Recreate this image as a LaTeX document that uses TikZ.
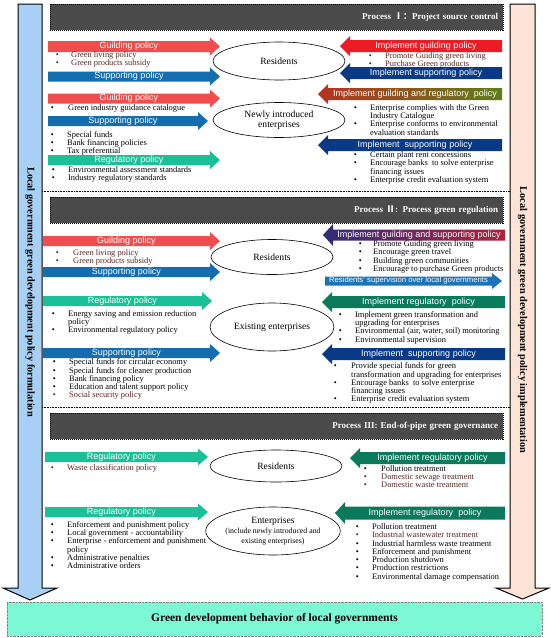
\documentclass[tikz,border=0pt]{standalone}
\usepackage{fontspec}
\setmainfont{Liberation Serif}
\setsansfont{Liberation Sans}
\newfontfamily\cjk{Noto Sans CJK SC}
\usetikzlibrary{shapes.geometric}
\definecolor{lred}{HTML}{F04E4E}
\definecolor{lblue}{HTML}{136DAF}
\definecolor{lgreen}{HTML}{1BBF98}
\definecolor{rred}{HTML}{EC1C24}
\definecolor{rnavy}{HTML}{0A3A85}
\definecolor{rgreen}{HTML}{0B7A5C}
\definecolor{brn}{HTML}{5A2424}
\definecolor{colL}{HTML}{A7D0F4}
\definecolor{colR}{HTML}{FCE3D5}
\definecolor{hdrgray}{HTML}{4B4B4B}
\definecolor{aqua}{HTML}{7CF8D5}
\definecolor{supblue}{HTML}{1C74B8}
\definecolor{grA}{HTML}{B5331E}
\definecolor{grB}{HTML}{5E7D1C}
\definecolor{gsA}{HTML}{2F2D78}
\definecolor{gsB}{HTML}{B3203A}
% right-pointing arrow: name, x1, tip, yc, half shaft, half head, path style, text
\newcommand\rarr[8]{%
  \path[#7] (#2,#4-#5) -- ({#3-10},#4-#5) -- ({#3-10},#4-#6) -- (#3,#4) -- ({#3-10},#4+#6) -- ({#3-10},#4+#5) -- (#2,#4+#5) -- cycle;
  \node[arrtxt] (#1) at ({(#2+#3-10)/2},#4) {#8};}
% left-pointing arrow: name, tip, x2, yc, half shaft, half head, path style, text
\newcommand\larr[8]{%
  \path[#7] (#3,#4-#5) -- ({#2+10},#4-#5) -- ({#2+10},#4-#6) -- (#2,#4) -- ({#2+10},#4+#6) -- ({#2+10},#4+#5) -- (#3,#4+#5) -- cycle;
  \node[arrtxt] (#1) at ({(#2+10+#3)/2},#4) {#8};}
% bullet list: name, bullet x, text x, first line centre y, rows
\newcommand\blist[5]{%
  \node[blist] (#1) at ({#2-1.4},{#4-3.8}) {\begin{tabular}{@{}p{\dimexpr #3pt-#2pt+1.4pt\relax}@{}l@{}}#5\end{tabular}};}
\newcommand\bi{\textbullet&}
\newcommand\bb[1]{\textcolor{brn}{\textbullet}&\textcolor{brn}{#1}}
\begin{document}
\begin{tikzpicture}[x=1pt,y=-1pt,
  arrtxt/.style={text=white,font=\sffamily\fontsize{9}{9}\selectfont,inner sep=0},
  blist/.style={anchor=north west,inner sep=0,font=\fontsize{8.4}{8}\selectfont},
  actor/.style={ellipse,draw,line width=0.6pt,inner sep=0,align=center,font=\fontsize{9.6}{10}\selectfont},
  hdr/.style={fill=hdrgray,draw=black,densely dotted,line width=1pt,minimum height=26pt,text width=443pt,inner xsep=5pt,align=right,text=white,font=\bfseries\fontsize{9}{9}\selectfont},
  coltext/.style={rotate=-90,font=\bfseries\fontsize{10.3}{11}\selectfont},
  sep/.style={densely dotted,line width=0.6pt}]
\useasboundingbox (0,0) rectangle (550,638);
\fill[white] (0,0) rectangle (550,638);
% side columns
\draw[fill=colL,line width=1pt] (18,4) -- (42,4) -- (42,588) -- (57,588) -- (30,600) -- (3,588) -- (18,588) -- cycle;
\draw[fill=colR,line width=1pt] (510,4) -- (535,4) -- (535,588) -- (549,588) -- (522.5,599) -- (496,588) -- (510,588) -- cycle;
\node[coltext] (lt) at (30,292) {Local government green development policy formulation};
\node[coltext] (rt) at (522.5,320) {Local government green development policy implementation};
% separators
\draw[sep] (42,191) -- (510,191);
\draw[sep] (42,407) -- (510,407);
% ===== Process I
\node[hdr] (p1) at (276.5,17) {Process {\cjk Ⅰ：}Project source control};
\rarr{g1}{48}{220}{46.5}{5.5}{9}{fill=lred}{Guilding policy}
\blist{b1}{57}{71}{55.5}{\bb{Green living policy}\\ \bb{Green products subsidy}\\}
\rarr{s1}{48}{220}{76.5}{5}{9}{fill=lblue}{Supporting policy}
\node[actor,minimum width=132,minimum height=38] (res1) at (279,61) {Residents};
\larr{ig1}{340}{502}{46}{6}{10}{fill=rred}{Implement guilding policy}
\blist{rb1}{370}{385}{56.5}{\bb{Promote Guiding green living}\\ \bb{Purchase Green products}\\}
\larr{is1}{340}{502}{73}{6}{10}{fill=rnavy}{Implement supporting policy}
\rarr{g2}{48}{220}{98.5}{5}{9}{fill=lred}{Guilding policy}
\blist{b2}{52}{68}{108}{\bi Green industry guidance catalogue\\}
\rarr{s2}{48}{208}{121}{5}{9}{fill=lblue}{Supporting policy}
\blist{b3}{52}{67}{135}{\bi Special funds\\ \bi Bank financing policies\\ \bi Tax preferential\\}
\rarr{r2}{48}{220}{160}{5}{9}{fill=lgreen}{Regulatory policy}
\blist{b4}{53}{68}{170}{\bi Environmental assessment standards\\ \bi Industry regulatory standards\\}
\node[actor,minimum width=132,minimum height=35] (new1) at (279,120) {Newly introduced\\enterprises};
\larr{igr}{318}{502}{94}{6}{10}{left color=grA,right color=grB}{Implement guilding and regulatory~ policy}
\blist{rb2}{355}{370}{108}{\bi Enterprise complies with the Green\\ & Industry Catalogue\\ \bi Enterprise conforms to environmental\\ & evaluation standards\\}
\larr{is2}{318}{502}{145}{6}{10}{fill=rnavy}{Implement~ supporting policy}
\blist{rb3}{355}{370}{155.5}{\bi Certain plant rent concessions\\ \bi Encourage banks~ to solve enterprise\\ & financing issues\\ \bi Enterprise credit evaluation system\\}
% ===== Process II
\node[hdr] (p2) at (276.5,210) {Process {\cjk Ⅱ}: Process green regulation};
\rarr{g3}{43}{220}{241}{5}{9}{fill=lred}{Guilding policy}
\blist{b5}{57}{73}{253}{\bb{Green living policy}\\ \bb{Green products subsidy}\\}
\rarr{s3}{43}{220}{272}{5}{9}{fill=lblue}{Supporting policy}
\node[actor,minimum width=122,minimum height=35] (res2) at (272,257) {Residents};
\larr{igs}{323}{505}{235}{5.5}{11}{left color=gsA,right color=gsB}{Implement guilding and supporting policy}
\blist{rb4}{360}{373}{244.5}{\bi Promote Guiding green living\\ \bi Encourage green travel\\ \bi Building green communities\\ \bi Encourage to purchase Green products\\}
\begin{scope}[arrtxt/.append style={font=\sffamily\fontsize{7.7}{8}\selectfont}]
\rarr{sup}{325}{502}{281}{4.5}{8}{fill=supblue}{Residents' supervision over local governments}
\end{scope}
\rarr{r3}{43}{212}{301}{5}{9}{fill=lgreen}{Regulatory policy}
\blist{b6}{53}{68}{314}{\bi Energy saving and emission reduction\\ & policy\\ \bi Environmental regulatory policy\\}
\rarr{s4}{43}{220}{353}{5}{9}{fill=lblue}{Supporting policy}
\blist{b7}{54}{69}{362.5}{\bi Special funds for circular economy\\ \bi Special funds for cleaner production\\ \bi Bank financing policy\\ \bi Education and talent support policy\\ \bb{Social security policy}\\}
\node[actor,minimum width=124,minimum height=48] (ex) at (272,327) {Existing enterprises};
\larr{ir1}{322}{505}{302}{6}{10}{fill=rgreen}{Implement regulatory~ policy}
\blist{rb5}{340}{355}{315}{\bi Implement green transformation and\\ & upgrading for enterprises\\ \bi Environmental (air, water, soil) monitoring\\ \bi Environmental supervision\\}
\larr{is3}{322}{505}{354}{6}{10}{fill=rnavy}{Implement~ supporting policy}
\blist{rb6}{335}{351}{366.5}{\bi Provide special funds for green\\ & transformation and upgrading for enterprises\\ \bi Encourage banks~ to solve enterprise\\ & financing issues\\ \bi Enterprise credit evaluation system\\}
% ===== Process III
\node[hdr] (p3) at (276.5,426) {Process III: End-of-pipe green governance};
\rarr{r4}{45}{208}{457}{5}{8.5}{fill=lgreen}{Regulatory policy}
\blist{b8}{52}{67}{468}{\bb{Waste classification policy}\\}
\node[actor,minimum width=132,minimum height=32] (res3) at (276,466) {Residents};
\larr{ir2}{350}{505}{458}{6}{10}{fill=rgreen}{Implement regulatory policy}
\blist{rb7}{365}{381}{469.5}{\bi Pollution treatment\\ \bb{Domestic sewage treatment}\\ \bb{Domestic waste treatment}\\}
\rarr{r5}{45}{208}{512}{5}{8.5}{fill=lgreen}{Regulatory policy}
\blist{b9}{52}{67}{525}{\bi Enforcement and punishment policy\\ \bi Local government - accountability\\ \bi Enterprise - enforcement and punishment\\ & policy\\ \bi Administrative penalties\\ \bi Administrative orders\\}
\node[actor,minimum width=122,minimum height=48] (ent) at (273,531) {Enterprises\\{\fontsize{7.8}{8}\selectfont (include newly introduced and}\\{\fontsize{7.8}{8}\selectfont existing enterprises)}};
\larr{ir3}{335}{505}{513}{6.5}{11}{fill=rgreen}{Implement regulatory~ policy}
\blist{rb8}{357}{372}{527.5}{\bi Pollution treatment\\ \bb{Industrial wastewater treatment}\\ \bi Industrial harmless waste treatment\\ \bi Enforcement and punishment\\ \bi Production shutdown\\ \bi Production restrictions\\ \bi Environmental damage compensation\\}
% outcome
\node[draw=gray,densely dotted,fill=aqua,minimum width=535,minimum height=34,font=\bfseries\fontsize{11.5}{12}\selectfont] (out) at (274.5,619) {Green development behavior of local governments};
\end{tikzpicture}
\end{document}
